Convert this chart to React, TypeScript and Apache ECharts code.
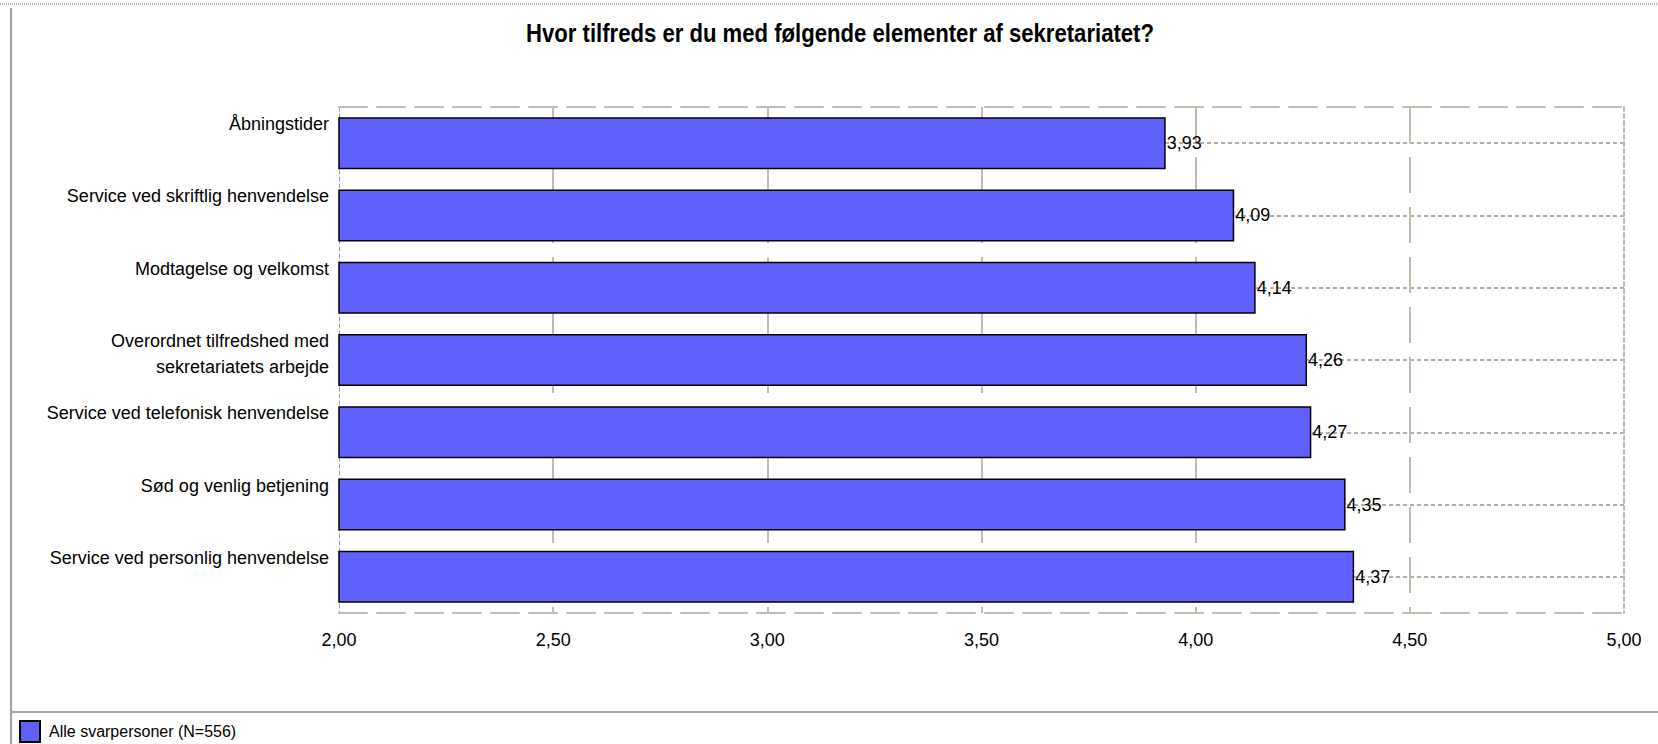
import React, { useEffect, useRef } from "react";
import * as echarts from "echarts";

const titleText = "Hvor tilfreds er du med følgende elementer af sekretariatet?";
const categories = [
  "Åbningstider",
  "Service ved skriftlig henvendelse",
  "Modtagelse og velkomst",
  "Overordnet tilfredshed med\nsekretariatets arbejde",
  "Service ved telefonisk henvendelse",
  "Sød og venlig betjening",
  "Service ved personlig henvendelse",
];
const values = [3.93, 4.09, 4.14, 4.26, 4.27, 4.35, 4.37];
const seriesName = "Alle svarpersoner (N=556)";
const axisMin = 2;
const axisMax = 5;
const axisStep = 0.5;

const FONT = "'Liberation Sans', Arial, sans-serif";
const GRID_COL = "#c0bcb0";
const fmt = (v: number) => v.toFixed(2).replace(".", ",");

export default function App() {
  const ref = useRef<HTMLDivElement>(null);
  useEffect(() => {
    if (!ref.current) return;
    const chart = echarts.init(ref.current, null, { renderer: "svg" });
    chart.setOption({
      animation: false,
      backgroundColor: "#ffffff",
      legend: {
        data: [seriesName],
        left: 19,
        top: 720,
        padding: 0,
        icon: "rect",
        itemWidth: 20,
        itemHeight: 21,
        textStyle: { fontFamily: FONT, fontSize: 16, color: "#000", padding: [0, 0, 0, 4] },
      },
      grid: { left: 339, right: 34, top: 107, bottom: 131, containLabel: false },
      xAxis: [
        {
          type: "value",
          position: "bottom",
          min: axisMin,
          max: axisMax,
          interval: axisStep,
          axisLine: { show: true, onZero: false, lineStyle: { color: GRID_COL, width: 2, type: [28, 10] } },
          axisTick: { show: false },
          axisLabel: {
            formatter: (v: number) => fmt(v),
            fontFamily: FONT,
            fontSize: 18,
            color: "#000",
            margin: 18,
          },
          splitLine: {
            show: true,
            showMinLine: false,
            showMaxLine: false,
            lineStyle: { color: GRID_COL, width: 2, type: [36, 14] },
          },
        },
        {
          type: "value",
          position: "top",
          min: axisMin,
          max: axisMax,
          interval: axisStep,
          axisLine: { show: true, onZero: false, lineStyle: { color: GRID_COL, width: 2, type: [28, 10] } },
          axisTick: { show: false },
          axisLabel: { show: false },
          splitLine: { show: false },
        },
      ],
      yAxis: [
        {
          type: "category",
          inverse: true,
          data: categories,
          axisLine: { show: true, onZero: false, lineStyle: { color: "#a09c90", width: 1, type: [4, 3] } },
          axisTick: { show: false },
          axisLabel: {
            fontFamily: FONT,
            fontSize: 18,
            color: "#000",
            margin: 10,
            align: "right",
            verticalAlign: "top",
            lineHeight: 26,
            padding: [-32, 0, 0, 0],
          },
          splitLine: { show: false },
        },
        {
          type: "value",
          position: "right",
          inverse: true,
          min: -0.5,
          max: 6.5,
          splitNumber: 7,
          axisLine: { show: true, onZero: false, lineStyle: { color: GRID_COL, width: 2, type: [4, 3] } },
          axisTick: { show: false },
          axisLabel: { show: false },
          splitLine: {
            show: true,
            showMinLine: false,
            showMaxLine: false,
            lineStyle: { color: "#b4b0a4", width: 2, type: [4, 3] },
          },
        },
      ],
      series: [
        {
          name: seriesName,
          type: "bar",
          xAxisIndex: 0,
          yAxisIndex: 0,
          data: values,
          barWidth: 52,
          itemStyle: { color: "#6060ff", borderColor: "#000", borderWidth: 1.5 },
          label: {
            show: true,
            position: "right",
            distance: 1,
            formatter: (p: any) => fmt(p.value),
            fontFamily: FONT,
            fontSize: 18,
            color: "#000",
          },
        },
      ],
      graphic: [
        {
          type: "text",
          x: 840,
          y: 34,
          scaleX: 0.885,
          style: {
            text: titleText,
            fontFamily: FONT,
            fontWeight: "bold",
            fontSize: 25,
            fill: "#000",
            textAlign: "center",
            textVerticalAlign: "middle",
          },
        },
        {
          type: "line",
          shape: { x1: 0, y1: 4, x2: 1658, y2: 4 },
          style: { stroke: "#666", lineWidth: 1, lineDash: [1, 1] },
        },
        {
          type: "line",
          shape: { x1: 11, y1: 8, x2: 11, y2: 744 },
          style: { stroke: "#a0a0a0", lineWidth: 2 },
        },
        {
          type: "line",
          shape: { x1: 11, y1: 712, x2: 1658, y2: 712 },
          style: { stroke: "#a8a8a8", lineWidth: 2 },
        },
      ],
    });
    return () => chart.dispose();
  }, []);
  return (
    <div
      ref={ref}
      style={{ position: "fixed", left: 0, top: 0, width: 1658, height: 744 }}
    />
  );
}
